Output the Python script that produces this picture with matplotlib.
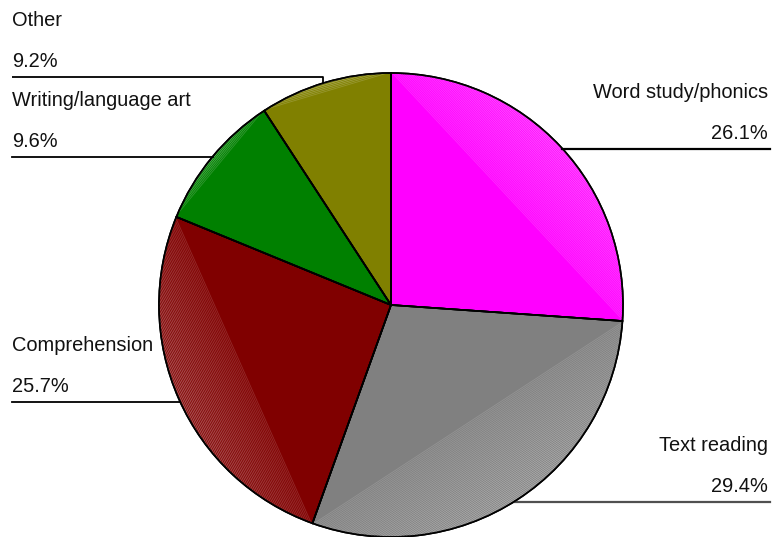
import numpy as np
import matplotlib
matplotlib.use("Agg")
import matplotlib.pyplot as plt
from matplotlib.colors import to_rgb

plt.rcParams["font.family"] = ["Liberation Sans", "DejaVu Sans"]

# Data, clockwise from 12 o'clock
categories = ["Word study/phonics", "Text reading", "Comprehension",
              "Writing/language art", "Other"]
shares = [26.1, 29.4, 25.7, 9.6, 9.2]
colors = ["#ff00ff", "#808080", "#800000", "#008000", "#808000"]

W, H = 772, 537
CX, CY, R = 391, 305, 232  # pie centre / radius in pixels (y down)

fig = plt.figure(figsize=(W / 100, H / 100), dpi=100)
ax = fig.add_axes([0, 0, 1, 1])
wedges, _ = ax.pie(shares, colors=colors, startangle=90, counterclock=False,
                   center=(CX, H - CY), radius=R,
                   wedgeprops={"edgecolor": "black", "linewidth": 1.2})
ax.set_xlim(0, W)
ax.set_ylim(0, H)
ax.set_aspect("equal")
ax.axis("off")

# faint striped "lighting" between each slice's chord and its rim
for w, c in zip(wedges, colors):
    t1, t2 = np.radians(w.theta1), np.radians(w.theta2)
    tm = (t1 + t2) / 2
    half = (t2 - t1) / 2
    d = R * np.cos(half)
    u = np.array([np.cos(tm), np.sin(tm)])
    v = np.array([-u[1], u[0]])
    ctr = np.array([CX, H - CY])
    light = tuple(0.55 * np.array(to_rgb(c)) + 0.45)
    for t in np.arange(d + 1.0, R, 1.6):
        frac = (t - d) / (R - d)
        p0 = ctr + t * u - R * v
        p1 = ctr + t * u + R * v
        ln, = ax.plot([p0[0], p1[0]], [p0[1], p1[1]], color=light,
                      lw=0.6, alpha=0.35 + 0.5 * frac)
        ln.set_clip_path(w)
    w.set_zorder(1)
    ax.add_patch(plt.matplotlib.patches.Wedge(
        w.center, w.r, w.theta1, w.theta2, facecolor="none",
        edgecolor="black", linewidth=1.2, zorder=3))


def rim_x(y, side):
    dy = y - CY
    return CX + side * np.sqrt(R ** 2 - dy ** 2)


def py(y):
    return H - y


fs = 14.4
# label layout: (category index, line y, side, line colour)
layout = [(4, 76.5, -1, "black"), (3, 156.5, -1, "black"),
          (2, 401.5, -1, "black"), (0, 148.5, 1, "black"),
          (1, 501.5, 1, "#505050")]

for idx, ly, side, lc in layout:
    name = categories[idx]
    pct = f"{shares[idx]:.1f}%"
    if side < 0:
        tx, ha = 12, "left"
        if idx == 4:
            # "Other" leader steps down to the rim
            vx = 323
            vy = CY - np.sqrt(R ** 2 - (vx - CX) ** 2)
            ax.plot([tx, vx, vx], [py(ly), py(ly), py(vy)], color=lc, lw=1.3,
                    solid_capstyle="butt")
        else:
            ax.plot([tx, rim_x(ly, -1)], [py(ly), py(ly)], color=lc, lw=1.3)
    else:
        tx, ha = 768, "right"
        ax.plot([rim_x(ly, 1), 770], [py(ly), py(ly)], color=lc, lw=1.6)
    ax.text(tx, py(ly - 9.5), pct, ha=ha, va="baseline", fontsize=fs,
            color="#111111")
    ax.text(tx, py(ly - 50.5), name, ha=ha, va="baseline", fontsize=fs,
            color="#111111")

fig.savefig("out.png", dpi=100)
